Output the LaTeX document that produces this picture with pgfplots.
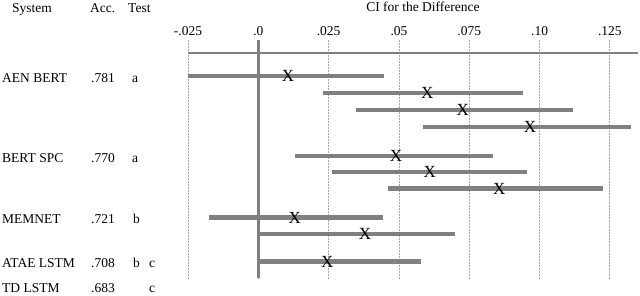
\documentclass[border=0pt]{standalone}
\usepackage{fontspec}
\setmainfont{Liberation Serif}
\usepackage{pgfplots}
\pgfplotsset{compat=1.18}
\definecolor{bargray}{HTML}{808080}
\definecolor{gridgray}{HTML}{A6A6A6}
\begin{document}
\fontsize{13.5}{16}\selectfont
\begin{tikzpicture}
\useasboundingbox (0pt,0pt) rectangle (640pt,-295pt);
\begin{axis}[
  at={(188pt,-279pt)}, anchor=south west,
  scale only axis, width=450pt, height=239pt,
  xmin=-0.025, xmax=0.135, ymin=-279, ymax=-40,
  axis line style={draw=none},
  xtick={-0.025,0,0.025,0.05,0.075,0.1,0.125},
  xticklabels={-.025,.0,.025,.05,.075,.10,.125},
  xticklabel pos=top,
  ytick=\empty,
  major tick length=0pt,
  xmajorgrids,
  grid style={dash pattern=on 2pt off 1pt, gridgray, line width=0.8pt},
  clip=false,
  tick label style={font=\fontsize{13.5}{16}\selectfont},
]
% zero line and top line
\addplot[bargray, line width=3pt] coordinates {(0,-40) (0,-278)};
\addplot[bargray, line width=1.8pt] coordinates {(-0.025,-53) (0.135,-53)};
% confidence intervals
\addplot[bargray, line width=4.5pt] coordinates {(-0.025,-76) (0.0447,-76)};
\addplot[bargray, line width=4.5pt] coordinates {(0.0229,-93) (0.0942,-93)};
\addplot[bargray, line width=4.5pt] coordinates {(0.0346,-110) (0.1118,-110)};
\addplot[bargray, line width=4.5pt] coordinates {(0.0587,-127) (0.1326,-127)};
\addplot[bargray, line width=4.5pt] coordinates {(0.0132,-156) (0.0836,-156)};
\addplot[bargray, line width=4.5pt] coordinates {(0.0261,-172) (0.0954,-172)};
\addplot[bargray, line width=4.5pt] coordinates {(0.0461,-188.5) (0.1227,-188.5)};
\addplot[bargray, line width=4.5pt] coordinates {(-0.0175,-217.5) (0.0444,-217.5)};
\addplot[bargray, line width=4.5pt] coordinates {(0,-234) (0.0699,-234)};
\addplot[bargray, line width=4.5pt] coordinates {(0,-261.5) (0.058,-261.5)};
% point estimates
\addplot[only marks, mark=text, text mark={X}, text mark as node=true,
  text mark style={font=\fontsize{17}{17}\selectfont, inner sep=0pt, anchor=center}]
  coordinates {(0.0106,-76) (0.0601,-93) (0.0727,-110) (0.0966,-127)
               (0.049,-156) (0.061,-172) (0.0857,-188.5)
               (0.013,-217.5) (0.0379,-234) (0.0245,-261.5)};
\end{axis}
\begin{scope}[every node/.style={inner sep=0pt, anchor=base west}]
\node[anchor=base] at (423pt,-11pt) {CI for the Difference};
\node at (12pt,-12pt) {System};
\node at (90pt,-12pt) {Acc.};
\node at (128pt,-12pt) {Test};
\node at (2pt,-82pt) {AEN BERT};   \node at (91pt,-82pt) {.781};  \node at (132pt,-82pt) {a};
\node at (2pt,-162pt) {BERT SPC};  \node at (91pt,-162pt) {.770}; \node at (132pt,-162pt) {a};
\node at (2pt,-223pt) {MEMNET};    \node at (91pt,-223pt) {.721}; \node at (133pt,-223pt) {b};
\node at (2pt,-267.5pt) {ATAE LSTM}; \node at (91pt,-267.5pt) {.708}; \node at (133pt,-267.5pt) {b}; \node at (149pt,-267.5pt) {c};
\node at (2pt,-292pt) {TD LSTM};     \node at (91pt,-292pt) {.683};   \node at (149pt,-292pt) {c};
\end{scope}
\end{tikzpicture}
\end{document}
